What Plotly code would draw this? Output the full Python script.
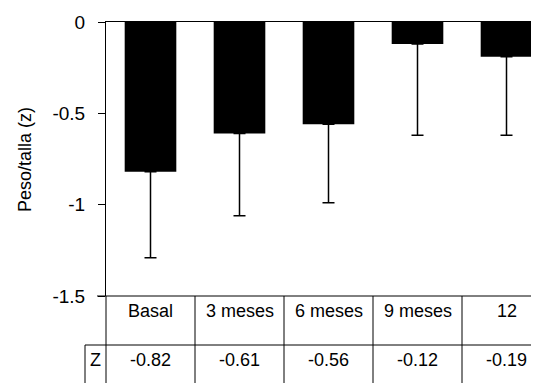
import plotly.graph_objects as go

categories = ["Basal", "3 meses", "6 meses", "9 meses", "12"]
z_values = [-0.82, -0.61, -0.56, -0.12, -0.19]
err_minus = [0.47, 0.45, 0.43, 0.50, 0.43]
table_row_label = "Z"
y_ticks = [0, -0.5, -1, -1.5]
y_tick_text = ["0", "-0.5", "-1", "-1.5"]
y_title = "Peso/talla (z)"

OFF = 8  # page body margin
W, H = 539 - OFF, 383 - OFF
L, R, T, B = 106 - OFF, 0, 22 - OFF, 87
PW, PH = W - L - R, H - T - B
CAT_PX = 89.0
x_max = -0.5 + PW / CAT_PX

FONT = "Liberation Sans, Arial, sans-serif"


def py(p):  # page pixel y -> paper y
    return (H - B - (p - OFF)) / PH


def pxp(p):  # page pixel x -> paper x
    return (p - OFF - L) / PW


def catx(v):  # data x -> paper x
    return (v + 0.5) / (x_max + 0.5)


fig = go.Figure()
fig.add_trace(go.Bar(
    x=list(range(len(categories))), y=z_values, width=0.58,
    marker=dict(color="black", line=dict(width=0)),
    error_y=dict(type="data", symmetric=False, array=[0] * len(z_values),
                 arrayminus=err_minus, color="black", thickness=1.5, width=6),
    showlegend=False,
))

line = dict(color="black", width=1)
shapes = []
shapes.append(dict(type="line", xref="paper", yref="paper", x0=pxp(97), x1=1, y0=0, y1=0, line=line))
shapes.append(dict(type="line", xref="paper", yref="paper", x0=pxp(85), x1=1, y0=py(345), y1=py(345), line=line))
shapes.append(dict(type="line", xref="paper", yref="paper", x0=0, x1=0, y0=0, y1=py(390), line=line))
shapes.append(dict(type="line", xref="paper", yref="paper", x0=pxp(85), x1=pxp(85), y0=py(345), y1=py(390), line=line))
for i in range(len(categories) - 1):
    xb = catx(i + 0.5)
    shapes.append(dict(type="line", xref="paper", yref="paper", x0=xb, x1=xb, y0=0, y1=py(390), line=line))

annotations = []
for i, (c, v) in enumerate(zip(categories, z_values)):
    annotations.append(dict(x=i, xref="x", y=py(311), yref="paper", text=c, showarrow=False,
                            xanchor="center", yanchor="middle", font=dict(family=FONT, size=18, color="black")))
    annotations.append(dict(x=i, xref="x", y=py(360), yref="paper", text=f"{v:.2f}", showarrow=False,
                            xanchor="center", yanchor="middle", font=dict(family=FONT, size=18, color="black")))
annotations.append(dict(x=pxp(95), xref="paper", y=py(360), yref="paper", text=table_row_label, showarrow=False,
                        xanchor="center", yanchor="middle", font=dict(family=FONT, size=18, color="black")))
annotations.append(dict(x=pxp(25), xref="paper", y=py(160), yref="paper", text=y_title, showarrow=False,
                        textangle=-90, xanchor="center", yanchor="middle",
                        font=dict(family=FONT, size=18, color="black")))

fig.update_layout(
    width=W, height=H,
    margin=dict(l=L, r=R, t=T, b=B, pad=0, autoexpand=False),
    paper_bgcolor="white", plot_bgcolor="white",
    font=dict(family=FONT, size=19, color="black"),
    xaxis=dict(range=[-0.5, x_max], side="top", showline=True, linecolor="black", linewidth=1,
               showticklabels=False, ticks="", showgrid=False, zeroline=False, fixedrange=True,
               automargin=False),
    yaxis=dict(range=[-1.5, 0], tickvals=y_ticks, ticktext=y_tick_text, ticks="outside", ticklen=7,
               tickcolor="black", tickwidth=1, showline=True, linecolor="black", linewidth=1,
               showgrid=False, zeroline=False, ticklabelstandoff=9, automargin=False,
               tickfont=dict(family=FONT, size=19, color="black")),
    shapes=shapes, annotations=annotations,
)

fig.write_html("out.html")
